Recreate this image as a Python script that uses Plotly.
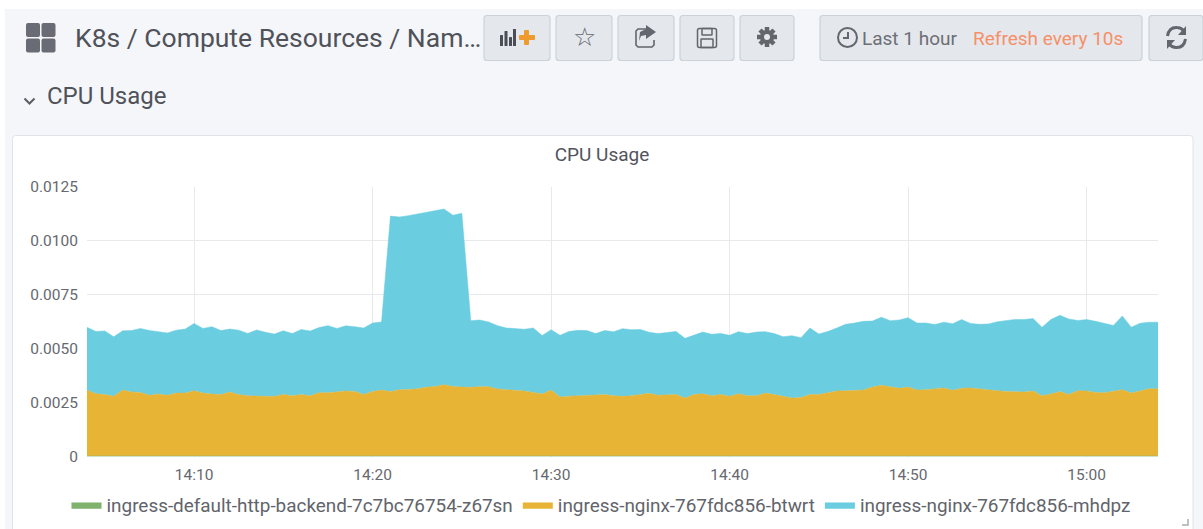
import pandas as pd
import plotly.graph_objects as go

W, H = 1203, 529
FONT = "Roboto"

times = pd.date_range("2019-01-01 14:04:00", "2019-01-01 15:04:00", freq="30s")
tick_times = ["2019-01-01 14:10", "2019-01-01 14:20", "2019-01-01 14:30", "2019-01-01 14:40", "2019-01-01 14:50", "2019-01-01 15:00"]
tick_text = ["14:10", "14:20", "14:30", "14:40", "14:50", "15:00"]
y_ticks = [0, 0.0025, 0.005, 0.0075, 0.01, 0.0125]
y_text = ["0", "0.0025", "0.0050", "0.0075", "0.0100", "0.0125"]

series_names = ["ingress-default-http-backend-7c7bc76754-z67sn", "ingress-nginx-767fdc856-btwrt", "ingress-nginx-767fdc856-mhdpz"]

backend = [0.00002] * len(times)

btwrt = [
    .00306, .00289, .00285, .00278, .00306, .00297, .00295, .00282, .00288, .00282, .00292,
    .00292, .00303, .00292, .00288, .00285, .00297, .00285, .00280, .00277, .00277, .00277,
    .00286, .00280, .00285, .00280, .00294, .00294, .00297, .00302, .00300, .00286, .00300,
    .00306, .00299, .00308, .00309, .00312, .00319, .00323, .00331, .00323, .00320, .00319,
    .00322, .00322, .00311, .00308, .00305, .00302, .00295, .00288, .00306, .00274, .00278,
    .00280, .00282, .00282, .00285, .00280, .00277, .00280, .00285, .00291, .00282, .00285,
    .00286, .00269, .00285, .00289, .00280, .00286, .00277, .00289, .00280, .00280, .00292,
    .00285, .00277, .00269, .00272, .00285, .00286, .00295, .00302, .00303, .00303, .00306,
    .00320, .00328, .00322, .00314, .00320, .00306, .00308, .00311, .00316, .00305, .00314,
    .00316, .00311, .00305, .00303, .00300, .00300, .00297, .00302, .00280, .00288, .00299,
    .00286, .00303, .00302, .00295, .00294, .00300, .00308, .00292, .00302, .00312, .00312,
]

mhdpz = [
    .00291, .00289, .00295, .00275, .00275, .00285, .00297, .00300, .00289, .00289, .00292,
    .00297, .00312, .00300, .00312, .00297, .00292, .00299, .00289, .00308, .00297, .00289,
    .00295, .00288, .00302, .00300, .00302, .00311, .00295, .00302, .00300, .00308, .00317,
    .00316, .00814, .00801, .00806, .00811, .00811, .00818, .00815, .00794, .00806, .00309,
    .00309, .00300, .00294, .00286, .00285, .00286, .00299, .00271, .00280, .00286, .00300,
    .00303, .00300, .00286, .00297, .00297, .00314, .00306, .00302, .00283, .00286, .00289,
    .00292, .00277, .00277, .00286, .00285, .00283, .00283, .00288, .00288, .00295, .00285,
    .00283, .00277, .00289, .00277, .00309, .00280, .00283, .00292, .00308, .00314, .00319,
    .00306, .00316, .00306, .00317, .00322, .00311, .00309, .00299, .00305, .00309, .00319,
    .00299, .00300, .00308, .00320, .00328, .00334, .00336, .00336, .00317, .00345, .00354,
    .00350, .00326, .00331, .00330, .00323, .00306, .00342, .00306, .00314, .00309, .00309,
]

colors = ["#7EB26D", "#E7B436", "#6ACDE0"]


def P(x, y):
    return f"{x / W:.5f},{1 - y / H:.5f}"


def rr(x0, y0, x1, y1, r):
    return (f"M{P(x0 + r, y0)} L{P(x1 - r, y0)} Q{P(x1, y0)} {P(x1, y0 + r)} L{P(x1, y1 - r)} "
            f"Q{P(x1, y1)} {P(x1 - r, y1)} L{P(x0 + r, y1)} Q{P(x0, y1)} {P(x0, y1 - r)} "
            f"L{P(x0, y0 + r)} Q{P(x0, y0)} {P(x0 + r, y0)} Z")


def poly(points, close=True):
    s = "M" + " L".join(P(x, y) for x, y in points)
    return s + (" Z" if close else "")


shapes = []


def add(path, fill=None, line=None, width=1):
    shapes.append(dict(type="path", xref="paper", yref="paper", path=path, layer="below",
                       fillcolor=fill or "rgba(0,0,0,0)",
                       line=dict(color=line or "rgba(0,0,0,0)", width=width if line else 0)))


def circle(cx, cy, r, fill=None, line=None, width=1):
    shapes.append(dict(type="circle", xref="paper", yref="paper", layer="below",
                       x0=(cx - r) / W, x1=(cx + r) / W, y0=1 - (cy + r) / H, y1=1 - (cy - r) / H,
                       fillcolor=fill or "rgba(0,0,0,0)",
                       line=dict(color=line or "rgba(0,0,0,0)", width=width if line else 0)))


# page and panel
add(rr(5, 9, 1203, 529, 0), fill="#F5F6F9")
add(rr(12.5, 135.5, 1193, 535, 3), fill="#FFFFFF", line="#DFE4EB")

# toolbar buttons
BTN = "#E4E7EC"
for x0, x1 in [(484, 550), (556, 612), (618, 674), (680, 734), (740, 794), (820, 1142), (1149, 1203)]:
    add(rr(x0, 15.5, x1, 60.5, 3), fill=BTN, line="#CBD2DA", width=1.2)

ICON = "#63666D"
# dashboard logo
for x0, y0 in [(26, 23), (41.5, 23), (26, 38.5), (41.5, 38.5)]:
    add(rr(x0, y0, x0 + 14, y0 + 14, 2), fill="#696C75")
# add-panel icon
for x0, x1, y0 in [(500, 503, 35), (504.5, 507.5, 31), (509, 512, 37), (513, 516, 29)]:
    add(rr(x0, y0, x1, 46, 0.5), fill="#4A4D55")
add(rr(524, 30, 529, 45, 1), fill="#EF9A2D")
add(rr(519, 35, 535, 40, 1), fill="#EF9A2D")
# share icon
add(poly([(646, 29), (638, 29), (636, 31), (636, 45), (638, 47), (652, 47), (654, 45), (654, 40)], close=False), line=ICON, width=1.6)
add(poly([(646, 25), (656, 32), (646, 39), (646, 35), (641, 36), (639, 41), (640, 32), (646, 29)]), fill=ICON)
# save icon
add(rr(697.5, 28.5, 716.5, 47.5, 2), line=ICON, width=1.5)
add(rr(702, 28.5, 712, 35, 0.5), line=ICON, width=1.5)
add(rr(701, 39, 713, 47.5, 0.5), line=ICON, width=1.5)
# gear icon
cx, cy = 767, 37
for dx, dy in [(0, 10), (10, 0), (7, 7), (7, -7)]:
    add(poly([(cx - dx, cy - dy), (cx + dx, cy + dy)], close=False), line=ICON, width=4.5)
circle(cx, cy, 7, fill=ICON)
circle(cx, cy, 3, fill=BTN)
# clock
circle(847.5, 37.5, 9.5, line=ICON, width=2)
add(poly([(848, 32), (848, 38), (843, 38)], close=False), line=ICON, width=2)
# refresh icon
add(f"M{P(1167.5, 36)} Q{P(1169, 27)} {P(1177, 27.5)} Q{P(1181, 27.5)} {P(1184, 31)}", line=ICON, width=3)
add(poly([(1186, 26), (1186, 35), (1178, 35)]), fill=ICON)
add(f"M{P(1185.5, 39)} Q{P(1184, 48)} {P(1176, 47.5)} Q{P(1172, 47.5)} {P(1169, 44)}", line=ICON, width=3)
add(poly([(1167, 49), (1167, 40), (1175, 40)]), fill=ICON)
# section chevron
add(poly([(24.5, 98.5), (29.5, 103.5), (34.5, 98.5)], close=False), line="#5A5D64", width=2)
# resize handle
add(poly([(1188, 519), (1188, 525), (1182, 525)], close=False), line="#A9ADB3", width=1.5)


def note(text, x, y, size, color="#52545C", anchor="left", family=FONT):
    return dict(text=text, x=x / W, y=1 - y / H, xref="paper", yref="paper", xanchor=anchor, yanchor="middle",
                showarrow=False, font=dict(family=family, size=size, color=color))


annotations = [
    note("K8s / Compute Resources / Nam…", 73, 37, 26.5, "#50525A"),
    note("CPU Usage", 45, 96, 24, "#50525A"),
    note("☆", 584, 37, 26, ICON, "center", "DejaVu Sans"),
    note("Last 1 hour", 860, 38, 19, "#6C6F76"),
    note("Refresh every 10s", 971, 38, 19, "#F69068"),
]

fig = go.Figure()
for name, values, color in zip(series_names, [backend, btwrt, mhdpz], colors):
    fig.add_trace(go.Scatter(x=times, y=values, name=name, mode="lines", stackgroup="one",
                             line=dict(color=color, width=0.5), fillcolor=color))

TICK = dict(family=FONT, size=15.5, color="#66686F")
fig.update_layout(
    width=W, height=H, margin=dict(l=0, r=0, t=0, b=0, autoexpand=False),
    paper_bgcolor="#FFFFFF", plot_bgcolor="rgba(0,0,0,0)",
    font=dict(family=FONT, color="#62646B"),
    showlegend=True,
    title=dict(text="CPU Usage", x=602 / W, xanchor="center", y=1 - 154 / H, yanchor="middle",
               font=dict(family=FONT, size=19, color="#52545C")),
    legend=dict(orientation="h", traceorder="normal", x=66.5 / W, xanchor="left",
                y=1 - 505 / H, yanchor="middle",
                font=dict(family=FONT, size=18.9, color="#62646B"), bgcolor="rgba(0,0,0,0)",
                itemclick=False, itemdoubleclick=False),
    xaxis=dict(domain=[87 / W, 1158 / W], range=[times[0], times[-1]], tickmode="array",
               tickvals=tick_times, ticktext=tick_text, showgrid=True, gridcolor="#E8E9EB", gridwidth=1,
               zeroline=False, showline=False, ticks="outside", ticklen=4, tickcolor="rgba(0,0,0,0)", tickfont=TICK),
    yaxis=dict(domain=[1 - 456.5 / H, 1 - 187 / H], range=[0, 0.0125], tickmode="array",
               tickvals=y_ticks, ticktext=y_text, showgrid=True, gridcolor="#E8E9EB", gridwidth=1,
               zeroline=False, showline=False, ticks="outside", ticklen=5, tickcolor="rgba(0,0,0,0)", tickfont=TICK),
    shapes=shapes, annotations=annotations,
)

fig.write_html("out.html", config=dict(displayModeBar=False),
               post_script="document.body.style.margin='0';document.body.style.overflow='hidden';")
